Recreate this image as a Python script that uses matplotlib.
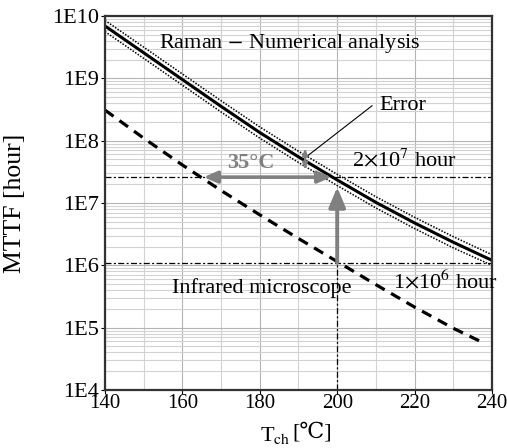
import numpy as np
import matplotlib
matplotlib.use("Agg")
import matplotlib.pyplot as plt
from matplotlib.ticker import LogLocator, NullFormatter

plt.rcParams['font.family'] = ['Liberation Serif', 'DejaVu Serif']
plt.rcParams['mathtext.fontset'] = 'stix'

# temperatures
temps = [140, 150, 160, 170, 180, 190, 200, 210, 220, 230, 240]
# Raman - numerical analysis (log10 of MTTF)
raman_log = [9.84, 9.41, 8.98, 8.55, 8.13, 7.74, 7.37, 7.01, 6.68, 6.37, 6.08]
raman_hi_log = [9.93, 9.50, 9.07, 8.64, 8.22, 7.83, 7.46, 7.10, 6.77, 6.46, 6.17]
raman_lo_log = [9.75, 9.32, 8.89, 8.46, 8.04, 7.65, 7.28, 6.92, 6.59, 6.28, 6.00]
# infrared microscope
ir_temps = [140, 150, 160, 170, 180, 190, 200, 210, 220, 230, 238]
ir_log = [8.49, 8.04, 7.61, 7.20, 6.81, 6.43, 6.06, 5.69, 5.33, 4.99, 4.75]

target_hi = 2.6e7
target_lo = 1.1e6
yticks = [1e4, 1e5, 1e6, 1e7, 1e8, 1e9, 1e10]
ylabels = ['1E4', '1E5', '1E6', '1E7', '1E8', '1E9', '1E10']

raman = 10 ** np.array(raman_log)
raman_hi = 10 ** np.array(raman_hi_log)
raman_lo = 10 ** np.array(raman_lo_log)
ir = 10 ** np.array(ir_log)

FS = 16

fig = plt.figure(figsize=(5.07, 4.48), dpi=100)
ax = fig.add_axes([105/507, 58/448, 387/507, 374/448])
ax.set_yscale('log')
ax.set_xlim(140, 240)
ax.set_ylim(1e4, 1e10)

ax.set_yticks(yticks)
ax.set_yticklabels(ylabels)
ax.yaxis.set_minor_locator(LogLocator(base=10, subs=range(2, 10)))
ax.yaxis.set_minor_formatter(NullFormatter())
ax.set_xticks(range(140, 241, 20))
ax.set_xticks(range(150, 241, 20), minor=True)
ax.tick_params(which='major', length=3, width=0.8, direction='out', labelsize=FS, pad=1)
ax.tick_params(axis='x', which='major', pad=0, labelsize=15)
ax.tick_params(which='minor', length=0)
ax.grid(which='minor', color='#d2d2d2', lw=0.8)
ax.grid(which='major', color='#b4b4b4', lw=0.8)
ax.set_axisbelow(True)
for s in ax.spines.values():
    s.set_linewidth(1.6)
    s.set_color('#333333')

# reference lines
dd = (4.8, 1.9, 1.6, 1.9)
ax.axhline(target_hi, color='black', lw=0.9, dashes=dd)
ax.axhline(target_lo, color='black', lw=0.9, dashes=dd)
ax.plot([200, 200], [1e4, target_lo], color='black', lw=0.9, dashes=dd)

# curves
ax.plot(temps, raman, color='black', lw=2.2)
ax.plot(temps, raman_hi, color='black', lw=1.1, dashes=(1, 1))
ax.plot(temps, raman_lo, color='black', lw=1.1, dashes=(1, 1))
ax.plot(ir_temps, ir, color='black', lw=2.3, dashes=(3.3, 2.3))

gray = '#808080'
ax.annotate('', xy=(165.5, target_hi), xytext=(198.5, target_hi),
            arrowprops=dict(arrowstyle='<|-|>,head_length=0.8,head_width=0.35',
                            color=gray, lw=2.6, shrinkA=0, shrinkB=0))
ax.annotate('', xy=(200, 1.8e7), xytext=(200, target_lo),
            arrowprops=dict(arrowstyle='-|>,head_length=1.2,head_width=0.5',
                            color=gray, lw=2.8, shrinkA=0, shrinkB=0))
ax.annotate('', xy=(191.7, 10**7.88), xytext=(191.7, 10**7.53),
            arrowprops=dict(arrowstyle='<|-|>,head_length=0.4,head_width=0.15',
                            color=gray, lw=1.5, shrinkA=0, shrinkB=0))
ax.plot([192, 209], [10**7.74, 10**8.56], color='black', lw=0.8)

ax.text(177.7, 10**7.64, '35°C', color=gray, fontsize=FS, fontweight='bold',
        ha='center', va='center')
ax.text(211, 10**8.57, 'Error', fontsize=FS, ha='left', va='center')
ax.text(203.7, 10**7.69, r'2$\times$10$^7$ hour', fontsize=FS, ha='left', va='center')
ax.text(154, 10**9.56, r'Raman $-$ Numerical analysis', fontsize=FS, ha='left', va='center')
ax.text(157.2, 10**5.63, 'Infrared microscope', fontsize=FS, ha='left', va='center')
ax.text(214.5, 10**5.74, r'1$\times$10$^6$ hour', fontsize=FS, ha='left', va='center')

ax.set_ylabel('MTTF [hour]', fontsize=18.5)
ax.yaxis.set_label_coords(-0.205, 0.5)
# x label split so the degree-Celsius sign can fall back to a font that has it
fig.text(290/507, 1 - 435/448, r'T$_{\mathrm{ch}}$', fontsize=FS, ha='right', va='center')
fig.text(292/507, 1 - 433/448, '[℃]', fontsize=FS, ha='left', va='center')

fig.savefig('out.png', dpi=100)
